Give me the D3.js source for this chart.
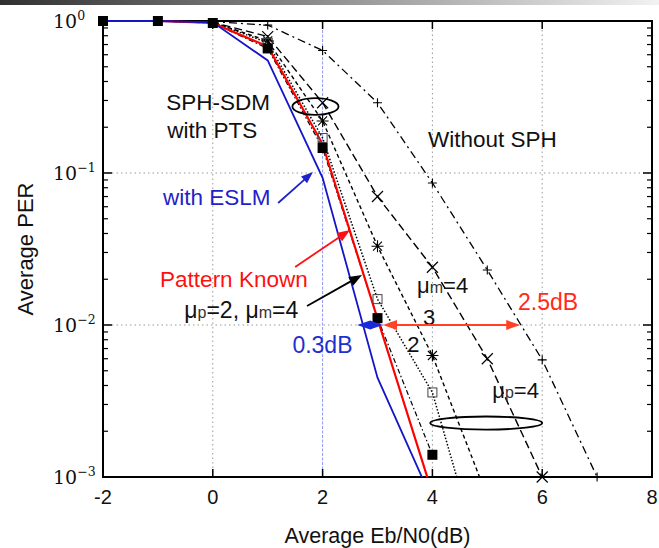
<!DOCTYPE html>
<html>
<head>
<meta charset="utf-8">
<script src="https://cdn.jsdelivr.net/npm/d3@7"></script>
<style>
  body { margin: 0; background: #fff; }
  svg { display: block; }
  text { font-family: "Liberation Sans", Arial, Helvetica, sans-serif; }
</style>
</head>
<body>
<script>
// Average PER versus Eb/N0 for SPH-SDM variants

const ebn0 = [-2, -1, 0, 1, 2, 3, 4, 5, 6, 7];

const perESLM         = [1, 1, 0.98, 0.55, 0.093, 0.0045, 0.0007];
const perPatternKnown = [1, 1, 0.97, 0.68, 0.155, 0.011, 0.00078];
const perPTSFilled    = [1, 1, 0.97, 0.66, 0.146, 0.0111, 0.0014];
const perMuP2         = [1, 1, 0.98, 0.72, 0.17, 0.0148, 0.0036, 0.0002];
const perMuP3         = [1, 1, 0.98, 0.74, 0.22, 0.033, 0.0063, 0.00074];
const perMuP4         = [1, 1, 0.98, 0.79, 0.29, 0.07, 0.024, 0.006, 0.001];
const perWithoutSPH   = [1, 1, 0.99, 0.94, 0.64, 0.29, 0.086, 0.023, 0.0059, 0.001];

const xTicks = [-2, 0, 2, 4, 6, 8];
const xTickLabels = ["-2", "0", "2", "4", "6", "8"];
const yTicks = [1, 0.1, 0.01, 0.001];
const yTickExps = ["0", "\u22121", "\u22122", "\u22123"];

const W = 659, H = 548;
const x = d3.scaleLinear().domain([-2, 8]).range([103, 652]);
const y = d3.scaleLog().domain([1e-3, 1]).range([477, 21]);

const svg = d3.select("body").append("svg").attr("width", W).attr("height", H);
const defs = svg.append("defs");

// slide header strip
const grad = defs.append("linearGradient").attr("id", "strip").attr("x1", "0").attr("x2", "1");
grad.append("stop").attr("offset", "0").attr("stop-color", "#303030");
grad.append("stop").attr("offset", "0.55").attr("stop-color", "#9a9a9a");
grad.append("stop").attr("offset", "1").attr("stop-color", "#f2f2f2");
svg.append("rect").attr("x", 0).attr("y", 0).attr("width", W).attr("height", 5).attr("fill", "url(#strip)");

defs.append("clipPath").attr("id", "plotClip")
  .append("rect").attr("x", x(-2)).attr("y", y(1) - 2)
  .attr("width", x(8) - x(-2)).attr("height", y(1e-3) - y(1) + 2);

// grid
const grid = svg.append("g");
[0, 4, 6].forEach(v => grid.append("line")
  .attr("x1", x(v)).attr("x2", x(v)).attr("y1", y(1)).attr("y2", y(1e-3))
  .attr("stroke", "#9a9a9a").attr("stroke-width", 1).attr("stroke-dasharray", "1.5,3"));
grid.append("line")
  .attr("x1", x(2)).attr("x2", x(2)).attr("y1", y(1)).attr("y2", y(1e-3))
  .attr("stroke", "#6f7cf0").attr("stroke-width", 0.8).attr("stroke-dasharray", "3,1.5");
[0.1, 0.01].forEach(v => grid.append("line")
  .attr("x1", x(-2)).attr("x2", x(8)).attr("y1", y(v)).attr("y2", y(v))
  .attr("stroke", "#9a9a9a").attr("stroke-width", 1).attr("stroke-dasharray", "1.5,3"));

// frame and ticks
const axes = svg.append("g").attr("stroke", "#000");
xTicks.forEach(v => {
  axes.append("line").attr("x1", x(v)).attr("x2", x(v)).attr("y1", y(1e-3)).attr("y2", y(1e-3) - 8).attr("stroke-width", 1.5);
  axes.append("line").attr("x1", x(v)).attr("x2", x(v)).attr("y1", y(1)).attr("y2", y(1) + 8).attr("stroke-width", 1.5);
});
yTicks.forEach(v => {
  axes.append("line").attr("x1", x(-2)).attr("x2", x(-2) + 9).attr("y1", y(v)).attr("y2", y(v)).attr("stroke-width", 1.5);
  axes.append("line").attr("x1", x(8)).attr("x2", x(8) - 9).attr("y1", y(v)).attr("y2", y(v)).attr("stroke-width", 1.5);
});
[0.001, 0.01, 0.1].forEach(dec => {
  for (let m = 2; m <= 9; m++) {
    const v = dec * m;
    axes.append("line").attr("x1", x(-2)).attr("x2", x(-2) + 5).attr("y1", y(v)).attr("y2", y(v)).attr("stroke-width", 1.2);
    axes.append("line").attr("x1", x(8)).attr("x2", x(8) - 5).attr("y1", y(v)).attr("y2", y(v)).attr("stroke-width", 1.2);
  }
});
svg.append("rect").attr("x", x(-2)).attr("y", y(1)).attr("width", x(8) - x(-2)).attr("height", y(1e-3) - y(1))
  .attr("fill", "none").attr("stroke", "#000").attr("stroke-width", 2);

// tick labels
xTicks.forEach((v, i) => svg.append("text")
  .attr("x", x(v)).attr("y", 504).attr("text-anchor", "middle")
  .attr("font-size", 20).attr("fill", "#111").text(xTickLabels[i]));
yTicks.forEach((v, i) => {
  const t = svg.append("text").attr("x", 53).attr("y", y(v) + 7)
    .style("font-family", "'DejaVu Serif', serif").attr("font-size", 19).attr("fill", "#111");
  t.append("tspan").text("10");
  t.append("tspan").attr("dy", -8).attr("font-size", 12.5).text(yTickExps[i]);
});

// axis titles
svg.append("text").attr("x", (x(-2) + x(8)) / 2).attr("y", 543).attr("text-anchor", "middle")
  .attr("font-size", 21.5).attr("fill", "#111").text("Average Eb/N0(dB)");
svg.append("text").attr("transform", `translate(33,${(y(1) + y(1e-3)) / 2}) rotate(-90)`)
  .attr("text-anchor", "middle").attr("font-size", 22).attr("fill", "#111").text("Average PER");

// curves
const line = d3.line().x(d => x(d[0])).y(d => y(d[1]));
const pairs = arr => arr.map((v, i) => [ebn0[i], v]);
const curves = svg.append("g").attr("clip-path", "url(#plotClip)").attr("fill", "none");
const curveDefs = [
  { data: perWithoutSPH, color: "#000", width: 1.3, dash: "8,4,2,4" },
  { data: perMuP4, color: "#000", width: 1.4, dash: "8,4" },
  { data: perMuP3, color: "#000", width: 1.4, dash: "4,3" },
  { data: perMuP2, color: "#000", width: 1.5, dash: "1.5,1.8" },
  { data: perPTSFilled, color: "#000", width: 1.2, dash: "5,2.5,1.5,2.5" },
  { data: perPatternKnown, color: "#ff0000", width: 2.2, dash: null },
  { data: perESLM, color: "#1515c8", width: 1.8, dash: null }
];
curveDefs.forEach(c => curves.append("path")
  .attr("d", line(pairs(c.data)))
  .attr("stroke", c.color).attr("stroke-width", c.width)
  .attr("stroke-dasharray", c.dash));

// point markers
const mk = svg.append("g");
const visible = (arr, from) => pairs(arr).filter(d => d[0] >= from && d[1] >= 1e-3);
visible(perWithoutSPH, 1).forEach(d => mk.append("path")
  .attr("transform", `translate(${x(d[0])},${y(d[1])})`)
  .attr("d", "M-4.5,0L4.5,0M0,-4.5L0,4.5").attr("stroke", "#000").attr("stroke-width", 1.1));
visible(perMuP4, 1).forEach(d => mk.append("path")
  .attr("transform", `translate(${x(d[0])},${y(d[1])})`)
  .attr("d", "M-5.5,-5.5L5.5,5.5M-5.5,5.5L5.5,-5.5").attr("stroke", "#000").attr("stroke-width", 1.2));
visible(perMuP3, 1).forEach(d => mk.append("path")
  .attr("transform", `translate(${x(d[0])},${y(d[1])})`)
  .attr("d", "M-4.5,-4.5L4.5,4.5M-4.5,4.5L4.5,-4.5M-6,0L6,0M0,-6L0,6").attr("stroke", "#000").attr("stroke-width", 1.1));
visible(perMuP2, 1).forEach(d => mk.append("rect")
  .attr("x", x(d[0]) - 4.5).attr("y", y(d[1]) - 4.5).attr("width", 9).attr("height", 9)
  .attr("fill", "none").attr("stroke", "#444").attr("stroke-width", 1));
visible(perPTSFilled, -2).forEach(d => mk.append("rect")
  .attr("x", x(d[0]) - 5).attr("y", y(d[1]) - 5).attr("width", 10).attr("height", 10)
  .attr("fill", "#000"));

// annotations
const ann = svg.append("g");

function arrow(x1, y1, x2, y2, color, w, hl, hw, both) {
  const a = Math.atan2(y2 - y1, x2 - x1);
  const ux = Math.cos(a), uy = Math.sin(a);
  const head = (px, py, dx, dy) => {
    const bx = px - dx * hl, by = py - dy * hl;
    return `M${px},${py}L${bx - dy * hw / 2},${by + dx * hw / 2}L${bx + dy * hw / 2},${by - dx * hw / 2}Z`;
  };
  const sx = both ? x1 + ux * hl * 0.8 : x1, sy = both ? y1 + uy * hl * 0.8 : y1;
  ann.append("line").attr("x1", sx).attr("y1", sy)
    .attr("x2", x2 - ux * hl * 0.8).attr("y2", y2 - uy * hl * 0.8)
    .attr("stroke", color).attr("stroke-width", w);
  ann.append("path").attr("d", head(x2, y2, ux, uy)).attr("fill", color);
  if (both) ann.append("path").attr("d", head(x1, y1, -ux, -uy)).attr("fill", color);
}

function ellipse(xa, xb, va, vb) {
  ann.append("ellipse")
    .attr("cx", (x(xa) + x(xb)) / 2).attr("cy", (y(va) + y(vb)) / 2)
    .attr("rx", (x(xb) - x(xa)) / 2).attr("ry", Math.abs(y(vb) - y(va)) / 2)
    .attr("fill", "none").attr("stroke", "#000").attr("stroke-width", 1.8);
}

function label(xv, v, parts, color, size) {
  const t = ann.append("text").attr("x", x(xv)).attr("y", y(v)).attr("fill", color).attr("font-size", size);
  parts.forEach(p => {
    if (typeof p === "string") t.append("tspan").text(p);
    else t.append("tspan").attr("font-size", p.size).attr("fill", p.fill || color).text(p.text);
  });
  return t;
}

ellipse(1.45, 2.29, 0.311, 0.241);
ellipse(3.96, 6.0, 0.0025, 0.00205);

label(-0.85, 0.26, ["SPH-SDM"], "#111", 22.5);
label(-0.83, 0.17, ["with PTS"], "#111", 22.5);
label(3.92, 0.148, ["Without SPH"], "#111", 22.5);
label(-0.907, 0.0616, ["with ESLM"], "#1f22c8", 22.5);
label(-0.96, 0.0178, ["Pattern Known"], "#ff1010", 22.5);
label(-0.52, 0.0111, ["\u03bc", { text: "p", size: 16, fill: "#333" }, "=2, \u03bc", { text: "m", size: 16, fill: "#333" }, "=4"], "#111", 23);
label(3.72, 0.0163, ["\u03bc", { text: "m", size: 16, fill: "#333" }, "=4"], "#111", 22);
label(5.09, 0.0033, ["\u03bc", { text: "p", size: 16, fill: "#333" }, "=4"], "#111", 22);
label(3.83, 0.01, ["3"], "#111", 22);
label(3.54, 0.00664, ["2"], "#111", 22);
label(1.45, 0.00655, ["0.3dB"], "#1f30d0", 23);
label(5.56, 0.0125, ["2.5dB"], "#ff2a1a", 23);

arrow(x(1.19), y(0.0635), x(1.825), y(0.1016), "#1f22c8", 1.8, 12, 9, false);
arrow(x(1.5), y(0.0241), x(2.5), y(0.0422), "#ff1010", 1.8, 13, 10, false);
arrow(x(1.716), y(0.01334), x(2.718), y(0.02133), "#000", 1.8, 13, 10, false);
arrow(x(2.63), y(0.01), x(3.1), y(0.01), "#1a2ad8", 2, 13, 9, true);
arrow(x(3.1), y(0.01), x(5.6), y(0.01), "#ff4226", 2, 14, 10, true);
</script>
</body>
</html>
